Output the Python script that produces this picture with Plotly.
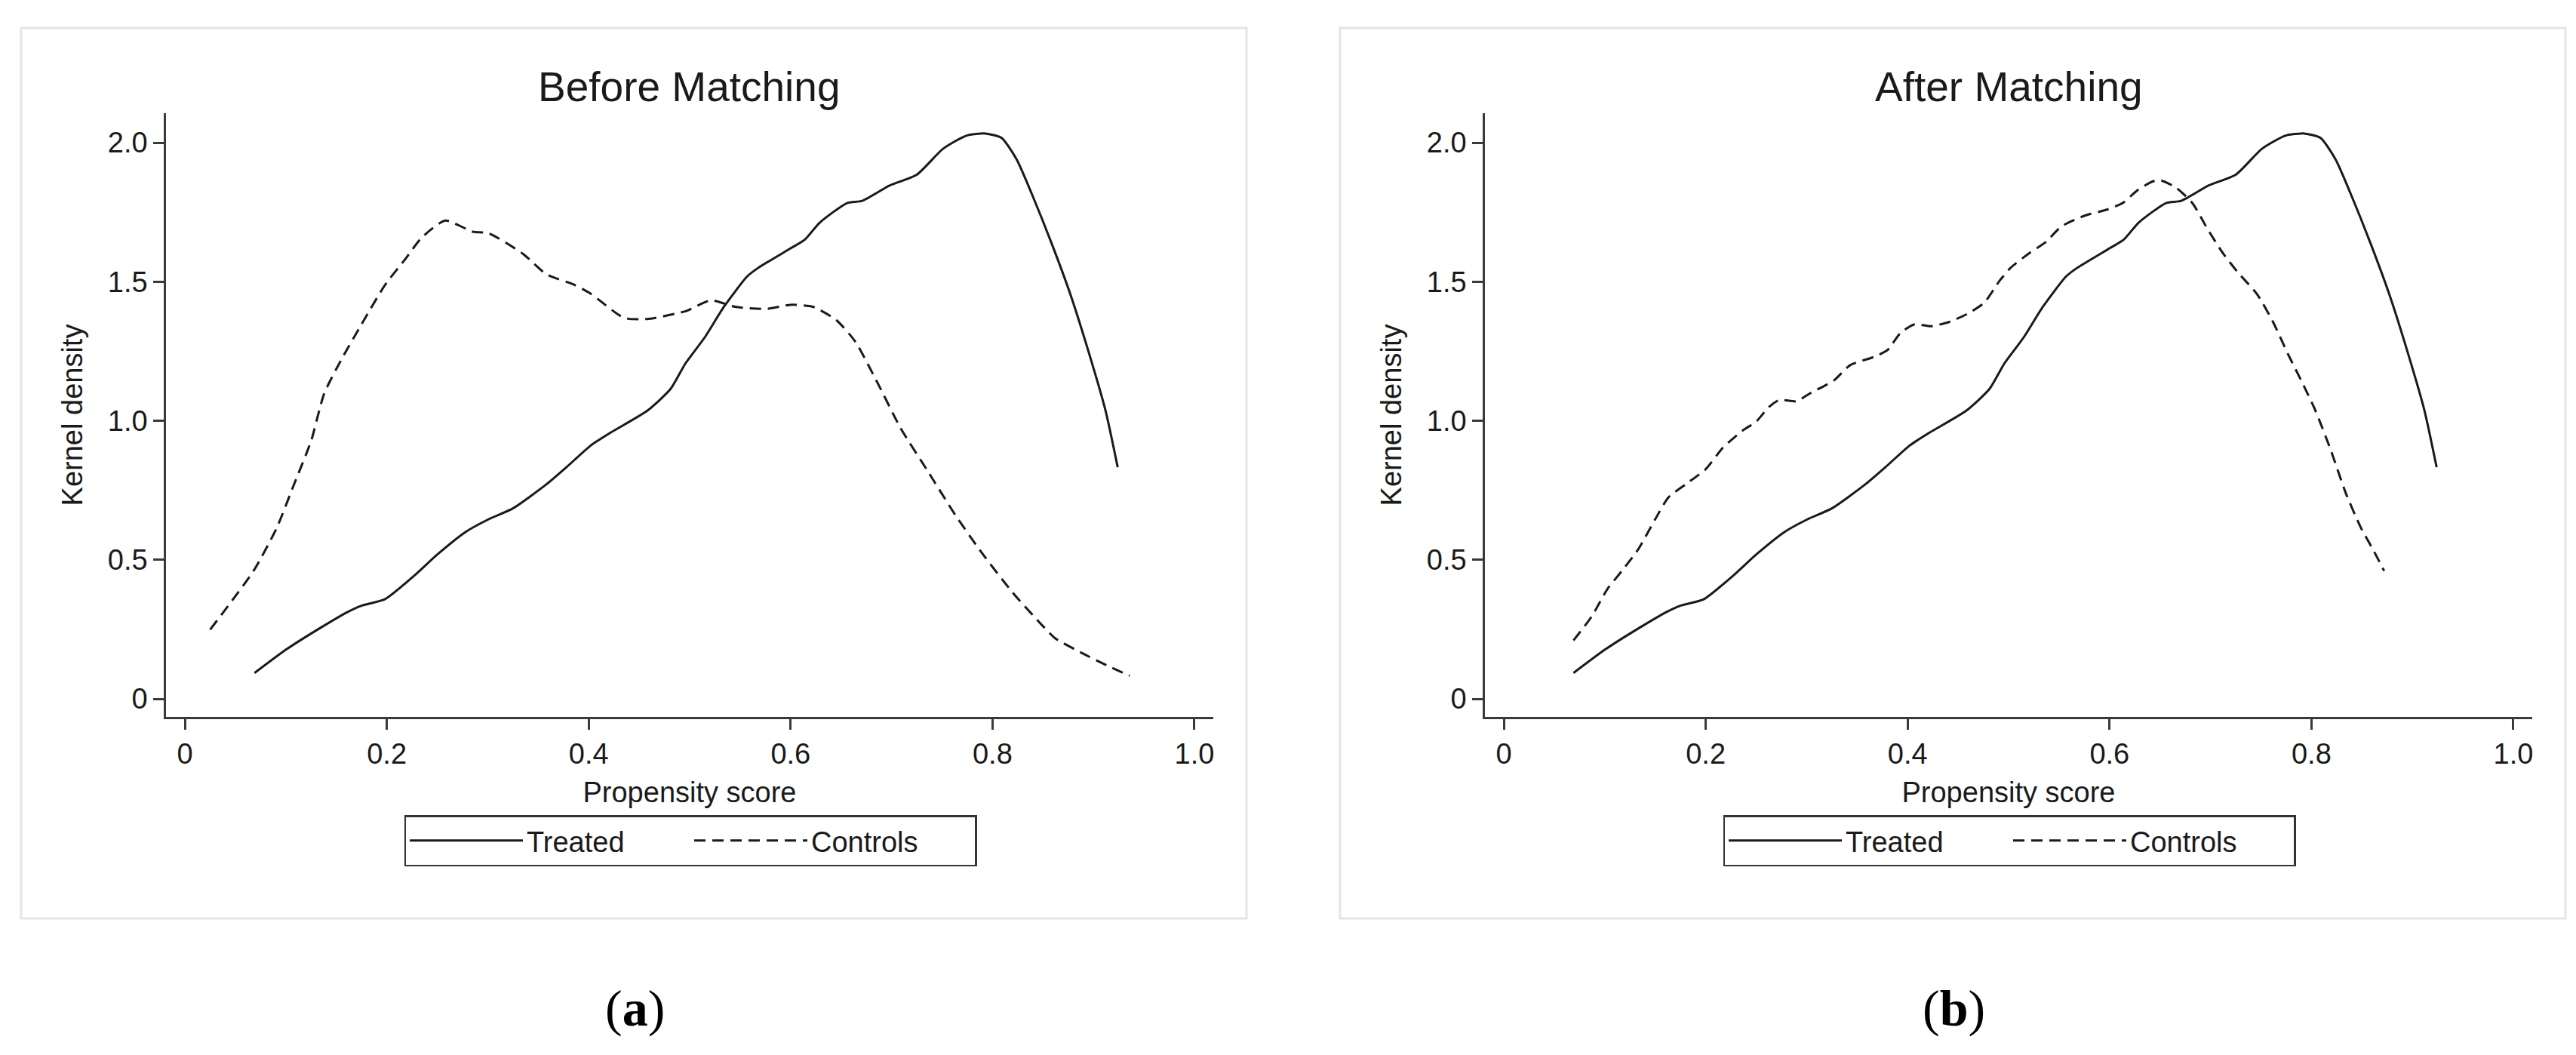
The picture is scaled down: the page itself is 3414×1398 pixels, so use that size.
import plotly.graph_objects as go

# ---------------- data ----------------
panel_titles = ["Before Matching", "After Matching"]
panel_tags = ["a", "b"]
series_names = ["Treated", "Controls"]

x_ticks = [0, 0.2, 0.4, 0.6, 0.8, 1.0]
x_tick_labels = ["0", "0.2", "0.4", "0.6", "0.8", "1.0"]
y_ticks = [0, 0.5, 1.0, 1.5, 2.0]
y_tick_labels = ["0", "0.5", "1.0", "1.5", "2.0"]

treated_x = [0.069, 0.101, 0.135, 0.161, 0.175, 0.198, 0.225, 0.251, 0.278, 0.301,
             0.325, 0.358, 0.378, 0.402, 0.422, 0.458, 0.481, 0.496, 0.515, 0.534,
             0.557, 0.568, 0.6, 0.614, 0.629, 0.656, 0.671, 0.698, 0.725, 0.751,
             0.774, 0.793, 0.809, 0.824, 0.839, 0.858, 0.877, 0.896, 0.912, 0.924]
treated_y = [0.093, 0.179, 0.257, 0.312, 0.335, 0.358, 0.436, 0.522, 0.6, 0.646,
             0.685, 0.771, 0.833, 0.911, 0.958, 1.036, 1.114, 1.207, 1.30, 1.41,
             1.519, 1.55, 1.62, 1.651, 1.713, 1.783, 1.791, 1.846, 1.885, 1.978,
             2.025, 2.033, 2.017, 1.939, 1.815, 1.643, 1.456, 1.238, 1.036, 0.833]

controls_before_x = [0.025, 0.068, 0.091, 0.108, 0.125, 0.138, 0.155, 0.175, 0.198, 0.218,
                     0.235, 0.258, 0.285, 0.301, 0.335, 0.358, 0.385, 0.402, 0.435, 0.458,
                     0.496, 0.521, 0.545, 0.576, 0.6, 0.622, 0.645, 0.664, 0.687, 0.709,
                     0.736, 0.763, 0.79, 0.82, 0.847, 0.862, 0.889, 0.915, 0.936]
controls_before_y = [0.249, 0.46, 0.615, 0.77, 0.927, 1.098, 1.22, 1.347, 1.487, 1.58,
                     1.66, 1.72, 1.68, 1.674, 1.60, 1.527, 1.49, 1.457, 1.37, 1.366,
                     1.394, 1.433, 1.41, 1.402, 1.417, 1.41, 1.363, 1.285, 1.13, 0.973,
                     0.818, 0.662, 0.522, 0.382, 0.273, 0.218, 0.164, 0.117, 0.083]

controls_after_x = [0.069, 0.087, 0.103, 0.117, 0.133, 0.15, 0.163, 0.18, 0.2, 0.217,
                    0.237, 0.25, 0.263, 0.273, 0.29, 0.303, 0.327, 0.343, 0.367, 0.38,
                    0.393, 0.407, 0.423, 0.441, 0.46, 0.476, 0.491, 0.502, 0.521, 0.537,
                    0.552, 0.575, 0.598, 0.613, 0.628, 0.643, 0.651, 0.666, 0.682, 0.697,
                    0.712, 0.727, 0.746, 0.762, 0.777, 0.792, 0.804, 0.819, 0.834, 0.849,
                    0.861, 0.872]
controls_after_y = [0.21, 0.296, 0.397, 0.46, 0.537, 0.646, 0.724, 0.771, 0.826, 0.903,
                    0.966, 0.997, 1.051, 1.075, 1.07, 1.098, 1.145, 1.2, 1.23, 1.254,
                    1.316, 1.347, 1.34, 1.355, 1.386, 1.425, 1.503, 1.55, 1.604, 1.643,
                    1.698, 1.737, 1.76, 1.783, 1.83, 1.861, 1.864, 1.838, 1.783, 1.69,
                    1.604, 1.534, 1.456, 1.355, 1.238, 1.129, 1.036, 0.896, 0.74, 0.615,
                    0.537, 0.46]

# ---------------- layout helpers ----------------
W, H = 3414, 1398
FONT = "Liberation Sans, Arial, Helvetica, sans-serif"
INK = "#1a1a1a"
AXC = "#3a3a3a"

def px_x(p):
    return p / W

def px_y(p):
    return 1 - p / H

shift = 1748  # horizontal offset of panel b in pixels
plot_left, plot_right = 212, 1600
plot_top, plot_bottom = 142, 942

fig = go.Figure()

panels = [
    (treated_x, treated_y, controls_before_x, controls_before_y),
    (treated_x, treated_y, controls_after_x, controls_after_y),
]

annotations = []
shapes = []
for i, (tx, ty, cx, cy) in enumerate(panels):
    xa = "x" if i == 0 else "x2"
    ya = "y" if i == 0 else "y2"
    lg = "legend" if i == 0 else "legend2"
    fig.add_trace(go.Scatter(
        x=tx, y=ty, mode="lines", name=series_names[0], xaxis=xa, yaxis=ya,
        legend=lg, line=dict(color=INK, width=3, shape="spline", smoothing=0.6)))
    fig.add_trace(go.Scatter(
        x=cx, y=cy, mode="lines", name=series_names[1], xaxis=xa, yaxis=ya,
        legend=lg, line=dict(color=INK, width=3, dash="15px,9px", shape="spline",
                             smoothing=0.6)))

    off = shift * i
    # panel frame
    shapes.append(dict(type="rect", xref="paper", yref="paper",
                       x0=px_x(20 + off), x1=px_x(1644 + off),
                       y0=px_y(1209), y1=px_y(29),
                       line=dict(color="#e4e5e9", width=3), layer="below"))
    cx_center = (plot_left + plot_right) / 2 + off
    annotations.append(dict(text=panel_titles[i], xref="paper", yref="paper",
                            x=px_x(cx_center), y=px_y(107), showarrow=False,
                            xanchor="center", yanchor="middle",
                            font=dict(family=FONT, size=55, color=INK)))
    annotations.append(dict(text="(<b>%s</b>)" % panel_tags[i], xref="paper", yref="paper",
                            x=px_x(833 + off), y=px_y(1328), showarrow=False,
                            xanchor="center", yanchor="middle",
                            font=dict(family="Liberation Serif, DejaVu Serif, serif",
                                      size=68, color="#000000")))

axis_common = dict(showgrid=False, zeroline=False, showline=True, linecolor=AXC,
                   linewidth=2.5, ticks="outside", ticklen=14, tickwidth=2.5,
                   tickcolor=AXC, tickfont=dict(family=FONT, size=38, color=INK),
                   mirror=False)

for i in range(2):
    off = shift * i
    xdom = [px_x(plot_left + off), px_x(plot_right + off)]
    ydom = [px_y(plot_bottom), px_y(plot_top)]
    xkey = "xaxis" if i == 0 else "xaxis2"
    ykey = "yaxis" if i == 0 else "yaxis2"
    fig.update_layout(**{
        xkey: dict(axis_common, domain=xdom, range=[-0.0187, 1.0187],
                   tickvals=x_ticks, ticktext=x_tick_labels,
                   anchor="y" if i == 0 else "y2",
                   title=dict(text="Propensity score", standoff=18,
                              font=dict(family=FONT, size=38, color=INK))),
        ykey: dict(axis_common, domain=ydom, range=[-0.065, 2.106],
                   tickvals=y_ticks, ticktext=y_tick_labels,
                   anchor="x" if i == 0 else "x2",
                   title=dict(text="Kernel density", standoff=22,
                              font=dict(family=FONT, size=38, color=INK))),
    })

legend_common = dict(orientation="h", xanchor="center", yanchor="top",
                     bordercolor="#333333", borderwidth=2.5, bgcolor="white",
                     font=dict(family=FONT, size=38, color=INK),
                     itemwidth=150, entrywidth=212, entrywidthmode="pixels",
                     itemclick=False, itemdoubleclick=False)

fig.update_layout(
    width=W, height=H,
    paper_bgcolor="white", plot_bgcolor="white",
    margin=dict(l=0, r=0, t=0, b=0),
    showlegend=True,
    legend=dict(legend_common, x=px_x(907), y=px_y(1072)),
    legend2=dict(legend_common, x=px_x(907 + shift), y=px_y(1072)),
    annotations=annotations,
    shapes=shapes,
)

fig.write_html("out.html")
